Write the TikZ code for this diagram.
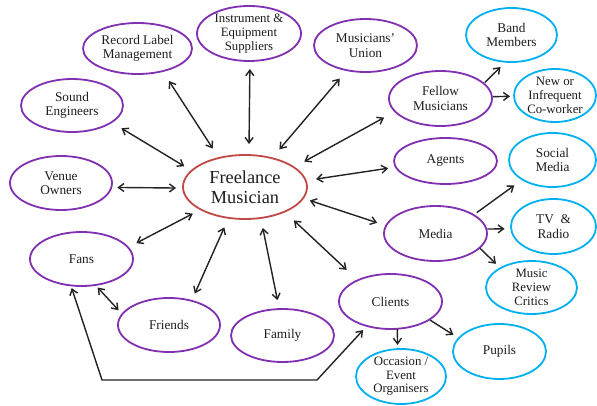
\documentclass[tikz,border=0pt]{standalone}
\usepackage{fontspec}
\setmainfont{Liberation Serif}
\usetikzlibrary{shapes.geometric,arrows.meta}
\definecolor{pur}{RGB}{128,48,176}
\definecolor{cya}{RGB}{0,176,240}
\definecolor{redc}{RGB}{192,72,70}
\definecolor{arr}{RGB}{35,35,35}
\definecolor{txt}{RGB}{30,30,30}
\begin{document}
\begin{tikzpicture}[x=1pt,y=-1pt,
  bub/.style={ellipse, draw, line width=1.8pt, inner sep=-5pt, outer sep=0pt, align=center,
    font=\fontsize{13.3}{14.5}\selectfont, text=txt},
  pb/.style={bub, draw=pur},
  cb/.style={bub, draw=cya},
  twoway/.style={{Straight Barb[length=5.5pt,width=8pt]}-{Straight Barb[length=5.5pt,width=8pt]}, line width=1.4pt, draw=arr},
  oneway/.style={-{Straight Barb[length=5.5pt,width=8pt]}, line width=1.4pt, draw=arr},
]
\path[fill=white] (0,0) rectangle (597,406);
\useasboundingbox (0,0) rectangle (597,406);

\node[bub, draw=redc, minimum width=124pt, minimum height=64pt, font=\fontsize{18.3}{20}\selectfont] (fm) at (245,187) {Freelance\\Musician};

\node[pb, minimum width=109pt, minimum height=51pt] (rl) at (137.5,48.5) {Record Label\\Management};
\node[pb, minimum width=104pt, minimum height=55pt, font=\fontsize{12.8}{14}\selectfont] (ie) at (249,33.5) {Instrument \&\\Equipment\\Suppliers};
\node[pb, minimum width=103pt, minimum height=53pt] (mu) at (365.5,45.5) {Musicians'\\Union};
\node[pb, minimum width=102pt, minimum height=53pt] (se) at (72,105.5) {Sound\\Engineers};
\node[pb, minimum width=102pt, minimum height=54pt] (vo) at (61,183) {Venue\\Owners};
\node[pb, minimum width=103pt, minimum height=55pt] (fem) at (440.5,98.5) {Fellow\\Musicians};
\node[pb, minimum width=103pt, minimum height=46pt] (ag) at (445.5,161) {Agents};
\node[pb, minimum width=103pt, minimum height=55pt] (me) at (435.5,233.5) {Media};
\node[pb, minimum width=103pt, minimum height=55pt] (cl) at (390.5,301.5) {Clients};
\node[pb, minimum width=103pt, minimum height=54pt] (fa) at (81.5,259) {Fans};
\node[pb, minimum width=102pt, minimum height=54pt] (fr) at (169,325) {Friends};
\node[pb, minimum width=103pt, minimum height=53pt] (fam) at (282.5,335.5) {Family};

\node[cb, minimum width=91pt, minimum height=54pt] (bm) at (511.5,35) {Band\\Members};
\node[cb, minimum width=82pt, minimum height=53pt, font=\fontsize{12.8}{14}\selectfont] (ni) at (555,95.5) {New or\\Infrequent\\Co-worker};
\node[cb, minimum width=87pt, minimum height=54pt] (sm) at (552.5,160) {Social\\Media};
\node[cb, minimum width=85pt, minimum height=55pt] (tv) at (553.5,226.5) {TV~~\&\\Radio};
\node[cb, minimum width=91pt, minimum height=53pt, font=\fontsize{12.8}{14}\selectfont] (mr) at (531.5,287.5) {Music\\Review\\Critics};
\node[cb, minimum width=93pt, minimum height=55pt] (pu) at (499.5,351.5) {Pupils};
\node[cb, minimum width=90pt, minimum height=55pt, font=\fontsize{12.8}{13.5}\selectfont] (oc) at (401,376.5) {Occasion /\\Event\\Organisers};

\draw[twoway, shorten <=11.3pt, shorten >=11.8pt] (fm.132) -- (rl.-42);
\draw[twoway, shorten <=11pt, shorten >=8pt] (fm.83) -- (ie.-88);
\draw[twoway, shorten <=11.6pt, shorten >=11pt] (fm.47) -- (mu.-127);
\draw[twoway, shorten <=8.6pt, shorten >=11.6pt] (fm.163) -- (se.-23);
\draw[twoway, shorten <=7pt, shorten >=6pt] (fm.181) -- (vo.-5);
\draw[twoway, shorten <=11.9pt, shorten >=12.6pt] (fm.22) -- (fem.-164);
\draw[twoway, shorten <=10.4pt, shorten >=7.9pt] (fm.6) -- (ag.-173);
\draw[twoway, shorten <=7.1pt, shorten >=9.4pt] (fm.-11) -- (me.171);
\draw[twoway, shorten <=12.8pt, shorten >=15.2pt] (fm.-32) -- (cl.147);
\draw[twoway, shorten <=9.1pt, shorten >=9.4pt] (fm.-153) -- (fa.14);
\draw[twoway, shorten <=10.4pt, shorten >=7.9pt] (fm.-118) -- (fr.47);
\draw[twoway, shorten <=10.2pt, shorten >=9.1pt] (fm.-63) -- (fam.97);
\draw[twoway, shorten <=3.4pt, shorten >=5.4pt] (fa.-62) -- (fr.167);

\draw[oneway, shorten <=1.4pt, shorten >=7.4pt] (fem.19) -- (bm.-102);
\draw[oneway, shorten <=1pt, shorten >=4pt] (fem.2) -- (ni.181);
\draw[oneway, shorten <=4pt, shorten >=10pt] (me.26) -- (sm.-147);
\draw[oneway, shorten <=1pt, shorten >=6.5pt] (me.5) -- (tv.183);
\draw[oneway, shorten <=0.5pt, shorten >=6.2pt] (me.-18) -- (mr.148);
\draw[oneway, shorten >=4.2pt] (cl.-76) -- (oc.97);
\draw[oneway, shorten <=0.9pt, shorten >=6.3pt] (cl.-25) -- (pu.162);

\coordinate (k1) at (317,380);
\coordinate (k2) at (102,380);
\draw[twoway, shorten <=5.6pt, shorten >=2.8pt] (cl.-134) -- (k1) -- (k2) -- (fa.-112);
\end{tikzpicture}
\end{document}
